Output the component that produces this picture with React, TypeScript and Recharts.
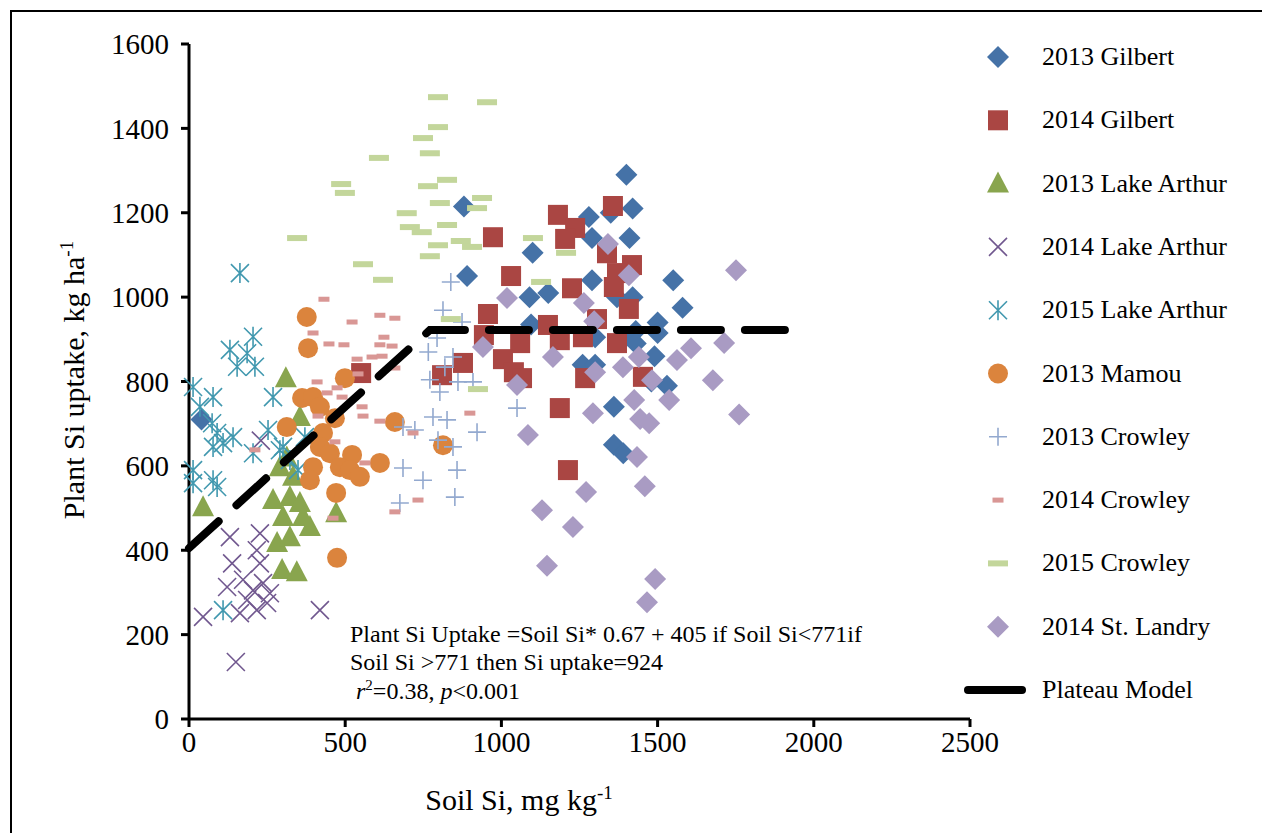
import React from "react";
import { ScatterChart, Scatter, XAxis, YAxis } from "recharts";

const gilbert2013 = [[40,710],[880,1215],[890,1050],[1100,1105],[1090,1000],[1150,1010],[1095,935],[1280,1190],[1290,1140],[1290,1040],[1350,1200],[1370,1000],[1400,1290],[1420,1210],[1410,1140],[1420,1000],[1430,920],[1390,900],[1300,905],[1260,840],[1300,840],[1360,740],[1360,650],[1390,630],[1500,940],[1500,915],[1550,1040],[1580,975],[1490,860],[1530,790],[1480,800],[1430,890]];
const gilbert2014 = [[551,820],[973,1142],[1031,1050],[957,960],[944,910],[877,844],[810,815],[1181,1195],[1236,1164],[1204,1138],[1357,1216],[1338,1104],[1418,1076],[1370,1057],[1360,1024],[1226,1021],[1408,972],[1306,948],[1149,934],[1187,898],[1261,905],[1060,891],[1005,853],[1040,822],[1066,808],[1370,891],[1453,811],[1268,808],[1187,737],[1213,590]];
const lakeArthur2013 = [[310,808],[45,502],[355,716],[291,597],[269,519],[323,526],[355,512],[301,479],[387,455],[282,417],[323,431],[471,488],[298,353],[345,348],[313,620],[333,574],[365,479]];
const lakeArthur2014 = [[150,135],[45,242],[419,258],[131,431],[227,440],[138,369],[217,400],[173,330],[237,322],[122,313],[186,282],[250,275],[217,258],[163,251],[259,298],[227,369],[205,305],[230,660]];
const lakeArthur2015 = [[163,1057],[131,875],[205,906],[186,867],[154,835],[211,835],[13,787],[77,763],[269,763],[35,740],[74,701],[90,678],[141,668],[77,645],[109,654],[253,685],[205,630],[291,637],[323,614],[13,590],[13,559],[90,550],[77,566],[349,590],[109,258],[301,645],[371,668]];
const mamou2013 = [[377,953],[381,879],[499,808],[362,761],[397,763],[419,740],[467,713],[313,692],[429,678],[419,645],[451,630],[522,626],[483,597],[515,590],[397,597],[547,574],[387,566],[611,607],[659,704],[471,536],[813,649],[474,382]];
const crowley2013 = [[838,1036],[813,969],[874,941],[794,903],[766,870],[845,858],[819,834],[771,804],[861,799],[909,799],[803,775],[1050,737],[781,716],[826,709],[922,680],[685,692],[723,685],[845,645],[685,595],[749,566],[858,590],[675,512],[851,526],[797,661]];
const crowley2014 = [[432,995],[522,941],[611,957],[659,950],[397,915],[448,889],[496,887],[538,853],[586,858],[618,860],[624,905],[611,887],[650,884],[659,832],[410,799],[474,785],[442,773],[490,763],[554,740],[557,718],[413,718],[611,706],[717,678],[467,657],[211,638],[563,607],[733,519],[659,491],[461,476],[899,725],[541,818]];
const crowley2015 = [[954,1462],[797,1474],[797,1403],[749,1377],[771,1341],[608,1330],[487,1268],[499,1247],[826,1278],[765,1263],[938,1235],[803,1223],[922,1211],[697,1199],[707,1166],[745,1154],[826,1171],[870,1133],[906,1119],[797,1123],[771,1097],[557,1078],[621,1041],[1101,1140],[1207,1105],[1127,1036],[838,948],[925,782],[346,1140]];
const stLandry2014 = [[1018,998],[1341,1126],[1751,1064],[1408,1052],[1264,986],[1297,943],[941,882],[1165,858],[1562,851],[1607,879],[1713,891],[1440,858],[1389,834],[1300,822],[1050,792],[1482,803],[1677,803],[1425,756],[1537,756],[1293,725],[1444,711],[1473,701],[1761,722],[1085,673],[1434,621],[1459,552],[1271,538],[1130,495],[1229,455],[1146,363],[1492,332],[1466,277]];
const plateau = [[0,405],[771,922],[1970,922]];
const xTicks = [0,500,1000,1500,2000,2500];
const yTicks = [0,200,400,600,800,1000,1200,1400,1600];

const toObj = (a: number[][]) => a.map(([x, y]) => ({ x, y }));

type S = (p: any) => React.ReactElement;
const diamond = (c: string): S => ({ cx, cy }) => <polygon points={`${cx},${cy-11} ${cx+11},${cy} ${cx},${cy+11} ${cx-11},${cy}`} fill={c} />;
const square = (c: string): S => ({ cx, cy }) => <rect x={cx-10} y={cy-10} width={20} height={20} fill={c} />;
const triangle = (c: string): S => ({ cx, cy }) => <polygon points={`${cx},${cy-12} ${cx+11},${cy+9} ${cx-11},${cy+9}`} fill={c} />;
const cross = (c: string): S => ({ cx, cy }) => <path d={`M${cx-9},${cy-9}L${cx+9},${cy+9}M${cx+9},${cy-9}L${cx-9},${cy+9}`} stroke={c} strokeWidth={1.6} />;
const star = (c: string): S => ({ cx, cy }) => <path d={`M${cx-9},${cy-9}L${cx+9},${cy+9}M${cx+9},${cy-9}L${cx-9},${cy+9}M${cx},${cy-10}L${cx},${cy+10}`} stroke={c} strokeWidth={1.6} />;
const circle = (c: string): S => ({ cx, cy }) => <circle cx={cx} cy={cy} r={10} fill={c} />;
const plus = (c: string): S => ({ cx, cy }) => <path d={`M${cx-9},${cy}L${cx+9},${cy}M${cx},${cy-9}L${cx},${cy+9}`} stroke={c} strokeWidth={1.6} />;
const dash = (c: string, w: number, h: number): S => ({ cx, cy }) => <rect x={cx-w/2} y={cy-h/2} width={w} height={h} fill={c} />;

const series = [
  { name: "2013 Gilbert", data: gilbert2013, shape: diamond("#4572A7") },
  { name: "2014 Gilbert", data: gilbert2014, shape: square("#AA4643") },
  { name: "2013 Lake Arthur", data: lakeArthur2013, shape: triangle("#89A54E") },
  { name: "2014 Lake Arthur", data: lakeArthur2014, shape: cross("#71588F") },
  { name: "2015 Lake Arthur", data: lakeArthur2015, shape: star("#4198AF") },
  { name: "2013 Mamou", data: mamou2013, shape: circle("#DB843D") },
  { name: "2013 Crowley", data: crowley2013, shape: plus("#93A9CF") },
  { name: "2014 Crowley", data: crowley2014, shape: dash("#D99795", 11, 5) },
  { name: "2015 Crowley", data: crowley2015, shape: dash("#C3D69B", 20, 6) },
  { name: "2014 St. Landry", data: stLandry2014, shape: diamond("#A99BC3") },
];

const font = "Liberation Serif";

export default function App() {
  return (
    <div style={{ position: "fixed", left: 0, top: 0, width: 1262, height: 833, background: "#fff", fontFamily: font, overflow: "hidden" }}>
      <style>{"svg text{font-family:'Liberation Serif',serif !important}"}</style>
      <div style={{ position: "absolute", left: 10, top: 10, width: 1260, height: 830, border: "2px solid #000" }} />
      <ScatterChart width={1262} height={833} margin={{ top: 44, right: 292, bottom: 74, left: 109 }} style={{ position: "absolute", left: 0, top: 0 }}>
        <XAxis type="number" dataKey="x" domain={[0, 2500]} ticks={xTicks} height={40} stroke="#000" strokeWidth={3}
          tick={{ fill: "#000", fontSize: 29 }} tickSize={8} tickMargin={4} />
        <YAxis type="number" dataKey="y" domain={[0, 1600]} ticks={yTicks} width={80} stroke="#000" strokeWidth={3}
          tick={{ fill: "#000", fontSize: 29 }} tickSize={8} tickMargin={12} />
        {series.map((s) => (
          <Scatter key={s.name} name={s.name} data={toObj(s.data)} shape={s.shape} isAnimationActive={false} />
        ))}
        <Scatter name="Plateau Model" data={toObj(plateau)} shape={() => <g />} isAnimationActive={false}
          line={{ stroke: "#000", strokeWidth: 8, strokeDasharray: "40 24", strokeLinecap: "round" } as any} />
      </ScatterChart>
      <svg width={1262} height={833} style={{ position: "absolute", left: 0, top: 0, pointerEvents: "none" }}>
        {series.map((s, i) => {
          const y = 57 + i * 63.3;
          return (
            <g key={s.name}>
              {s.shape({ cx: 998, cy: y })}
              <text x={1042} y={y + 8} fontSize={26}>{s.name}</text>
            </g>
          );
        })}
        <line x1={968} y1={690} x2={1022} y2={690} stroke="#000" strokeWidth={8} strokeLinecap="round" />
        <text x={1042} y={698} fontSize={26}>Plateau Model</text>
        <text x={350} y={642} fontSize={24}>Plant Si Uptake =Soil Si* 0.67 + 405 if Soil Si&lt;771if</text>
        <text x={350} y={670} fontSize={24}>Soil Si &gt;771 then Si uptake=924</text>
        <text x={356} y={699} fontSize={24}><tspan fontStyle="italic">r</tspan><tspan dy={-9} fontSize={15}>2</tspan><tspan dy={9}>=0.38, </tspan><tspan fontStyle="italic">p</tspan>&lt;0.001</text>
        <text x={519} y={810} fontSize={30} textAnchor="middle">Soil Si, mg kg<tspan dy={-11} fontSize={19}>-1</tspan></text>
        <text transform="translate(84,380) rotate(-90)" fontSize={30} textAnchor="middle">Plant Si uptake, kg ha<tspan dy={-11} fontSize={19}>-1</tspan></text>
      </svg>
    </div>
  );
}
